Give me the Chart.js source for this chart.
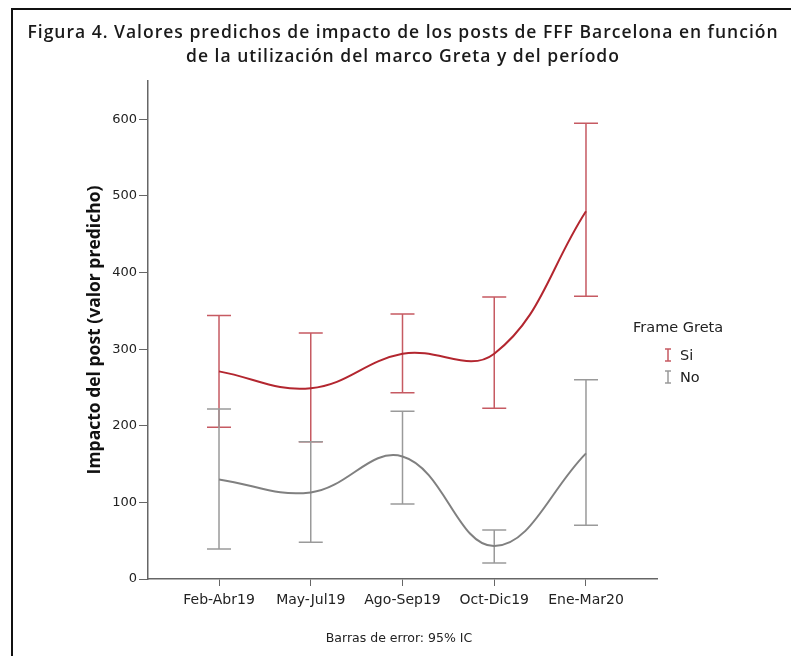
<!DOCTYPE html>
<html>
<head>
<meta charset="utf-8">
<script src="https://cdn.jsdelivr.net/npm/chart.js@4.4.1/dist/chart.umd.min.js"></script>
<style>
    html, body { margin: 0; padding: 0; background: #ffffff; }
    #wrap { width: 791px; height: 656px; position: relative; }
</style>
</head>
<body>
<div id="wrap"><canvas id="gretaChart"></canvas></div>
<script>
// ================== DATA ==================
const periods = ["Feb-Abr19", "May-Jul19", "Ago-Sep19", "Oct-Dic19", "Ene-Mar20"];

const siValues = [271, 249, 294, 294, 480];
const siLower  = [198, 179, 243, 223, 369];
const siUpper  = [344, 321, 346, 368, 595];

const noValues = [130, 113, 160, 43, 164];
const noLower  = [39, 48, 98, 21, 70];
const noUpper  = [222, 179, 219, 64, 260];

const yTicks = [0, 100, 200, 300, 400, 500, 600];

const RED = "#b3262f";
const RED_BAR = "#c65a62";
const GREY = "#808080";
const GREY_BAR = "#9a9a9a";
const FONT = "'DejaVu Sans'";

// ================== PLUGINS ==================
// error bars drawn from the dataset's own lower/upper arrays through the scales
const errorBars = {
    id: "errorBars",
    beforeDatasetsDraw(chart) {
        const ctx = chart.ctx;
        const xs = chart.scales.x;
        const ys = chart.scales.y;
        chart.data.datasets.forEach(ds => {
            ctx.save();
            ctx.strokeStyle = ds.barColor;
            ctx.lineWidth = 1.5;
            ds.lower.forEach((lo, i) => {
                const x = xs.getPixelForValue(i);
                const yLo = ys.getPixelForValue(lo);
                const yHi = ys.getPixelForValue(ds.upper[i]);
                ctx.beginPath();
                ctx.moveTo(x, yLo); ctx.lineTo(x, yHi);
                ctx.moveTo(x - 12, yLo); ctx.lineTo(x + 12, yLo);
                ctx.moveTo(x - 12, yHi); ctx.lineTo(x + 12, yHi);
                ctx.stroke();
            });
            ctx.restore();
        });
    }
};

// frame, title, legend and footer note
const decorations = {
    id: "decorations",
    beforeDraw(chart) {
        const ctx = chart.ctx;
        ctx.save();
        ctx.fillStyle = "#ffffff";
        ctx.fillRect(0, 0, chart.width, chart.height);
        ctx.strokeStyle = "#111";
        ctx.lineWidth = 2;
        ctx.beginPath();
        ctx.moveTo(12, chart.height);
        ctx.lineTo(12, 9);
        ctx.lineTo(chart.width, 9);
        ctx.stroke();
        ctx.restore();
    },
    afterDraw(chart) {
        const ctx = chart.ctx;
        ctx.save();
        ctx.fillStyle = "#1a1a1a";
        ctx.textAlign = "center";
        ctx.textBaseline = "middle";
        ctx.font = "600 17.5px 'Open Sans'";
        ctx.letterSpacing = "1px";
        ctx.fillText("Figura 4. Valores predichos de impacto de los posts de FFF Barcelona en función", 403, 33);
        ctx.fillText("de la utilización del marco Greta y del período", 403, 57);
        ctx.letterSpacing = "0px";

        ctx.fillStyle = "#222";
        ctx.font = "12.5px " + FONT;
        ctx.fillText("Barras de error: 95% IC", 399, 639);

        // legend
        ctx.textAlign = "left";
        ctx.font = "14.5px " + FONT;
        ctx.fillText("Frame Greta", 633, 328);
        const items = [["Si", RED_BAR, 355], ["No", GREY_BAR, 377]];
        items.forEach(([label, color, y]) => {
            ctx.strokeStyle = color;
            ctx.lineWidth = 1.5;
            ctx.beginPath();
            ctx.moveTo(668, y - 6); ctx.lineTo(668, y + 6);
            ctx.moveTo(665, y - 6); ctx.lineTo(671, y - 6);
            ctx.moveTo(665, y + 6); ctx.lineTo(671, y + 6);
            ctx.stroke();
            ctx.fillStyle = "#222";
            ctx.fillText(label, 680, y + 1);
        });
        ctx.restore();
    }
};

// ================== CHART ==================
const ctx = document.getElementById("gretaChart").getContext("2d");

new Chart(ctx, {
    type: "line",
    data: {
        datasets: [
            {
                label: "Si",
                data: siValues.map((v, i) => ({ x: i, y: v })),
                lower: siLower,
                upper: siUpper,
                barColor: RED_BAR,
                borderColor: RED,
                borderWidth: 2,
                pointRadius: 0,
                tension: 0.4,
                fill: false
            },
            {
                label: "No",
                data: noValues.map((v, i) => ({ x: i, y: v })),
                lower: noLower,
                upper: noUpper,
                barColor: GREY_BAR,
                borderColor: GREY,
                borderWidth: 2,
                pointRadius: 0,
                tension: 0.4,
                fill: false
            }
        ]
    },
    options: {
        responsive: true,
        maintainAspectRatio: false,
        animation: false,
        layout: { padding: { top: 81, right: 134, left: 0, bottom: 0 } },
        plugins: {
            legend: { display: false },
            title: { display: false },
            tooltip: { enabled: false }
        },
        scales: {
            x: {
                type: "linear",
                min: -0.774,
                max: 4.774,
                afterBuildTicks: scale => { scale.ticks = periods.map((p, i) => ({ value: i })); },
                afterFit: scale => { scale.height = 77; },
                ticks: {
                    callback: v => periods[v],
                    font: { size: 14, family: FONT },
                    color: "#222",
                    padding: 6,
                    maxRotation: 0
                },
                grid: { drawOnChartArea: false, drawTicks: true, tickLength: 7, color: "#666" },
                border: { display: true, color: "#666", width: 1.5 }
            },
            y: {
                min: 0,
                max: 650,
                afterBuildTicks: scale => { scale.ticks = yTicks.map(v => ({ value: v })); },
                afterFit: scale => { scale.width = 148; },
                ticks: {
                    font: { size: 13, family: FONT },
                    color: "#222",
                    padding: 2
                },
                grid: { drawOnChartArea: false, drawTicks: true, tickLength: 9, color: "#666" },
                border: { display: true, color: "#666", width: 1.5 },
                title: {
                    display: true,
                    text: "Impacto del post (valor predicho)",
                    font: { size: 17.5, weight: "bold", family: "'Open Sans'" },
                    color: "#111",
                    padding: { top: 85, bottom: 0 }
                }
            }
        }
    },
    plugins: [errorBars, decorations]
});
</script>
</body>
</html>
